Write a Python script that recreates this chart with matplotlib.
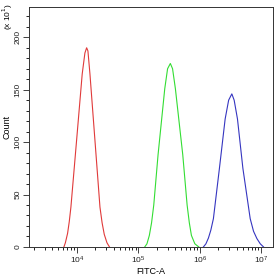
import numpy as np
import matplotlib
matplotlib.use("Agg")
import matplotlib.pyplot as plt
from matplotlib.ticker import LogLocator, NullFormatter, MultipleLocator

# Histogram outlines (log10 of FITC-A, count / 10)
red_logx = [3.788, 3.812, 3.848, 3.875, 3.902, 3.995, 4.086, 4.130, 4.158, 4.179,
            4.212, 4.293, 4.375, 4.410, 4.445, 4.489, 4.530]
red_count = [0, 4, 13, 24, 38, 102, 165, 185, 190, 187,
             165, 102, 38, 23, 12, 4, 0]

green_logx = [5.104, 5.140, 5.179, 5.215, 5.251, 5.321, 5.430, 5.476, 5.521, 5.557,
              5.603, 5.723, 5.794, 5.830, 5.864, 5.920, 5.984]
green_count = [0, 3, 11, 23, 40, 88, 151, 170, 175, 170,
               151, 88, 40, 23, 11, 3, 0]

blue_logx = [6.059, 6.100, 6.141, 6.180, 6.222, 6.320, 6.413, 6.470, 6.522, 6.560,
             6.614, 6.702, 6.821, 6.875, 6.930, 6.985, 7.038]
blue_count = [0, 3, 8.5, 16, 27, 75, 122, 140, 146, 140,
              122, 75, 27, 15, 8, 3, 0]

plt.rcParams['font.family'] = ['Liberation Sans', 'DejaVu Sans']

fig = plt.figure(figsize=(2.79, 2.75), dpi=100)
ax = fig.add_axes([0.104, 0.102, 0.874, 0.873])

for lx, c, col in [(red_logx, red_count, '#e03a3a'),
                   (green_logx, green_count, '#33dd33'),
                   (blue_logx, blue_count, '#3535c0')]:
    ax.plot(10 ** np.array(lx), c, color=col, lw=0.8)

ax.set_xscale('log')
ax.set_xlim(10 ** 3.22, 10 ** 7.19)
ax.set_ylim(0, 229)

ax.xaxis.set_major_locator(LogLocator(base=10, numticks=10))
ax.xaxis.set_minor_locator(LogLocator(base=10, subs=np.arange(2, 10), numticks=20))
ax.xaxis.set_minor_formatter(NullFormatter())
ax.yaxis.set_major_locator(MultipleLocator(50))
ax.yaxis.set_minor_locator(MultipleLocator(10))

ax.tick_params(which='major', length=4, width=0.6, labelsize=6, colors='#222222', pad=1.5)
ax.tick_params(which='minor', length=2.5, width=0.6)
for lab in ax.get_yticklabels():
    lab.set_rotation(90)
    lab.set_va('center')

for s in ax.spines.values():
    s.set_linewidth(0.7)
    s.set_color('#333333')

ax.set_xlabel('FITC-A', fontsize=6.5, labelpad=1)
ax.set_ylabel('Count', fontsize=6.5)
ax.yaxis.set_label_coords(-0.072, 0.5)
fig.text(0.027, 0.94, r'(x 10$^1$)', rotation=90, fontsize=6, ha='center', va='center')

fig.savefig('out.png', dpi=100)
